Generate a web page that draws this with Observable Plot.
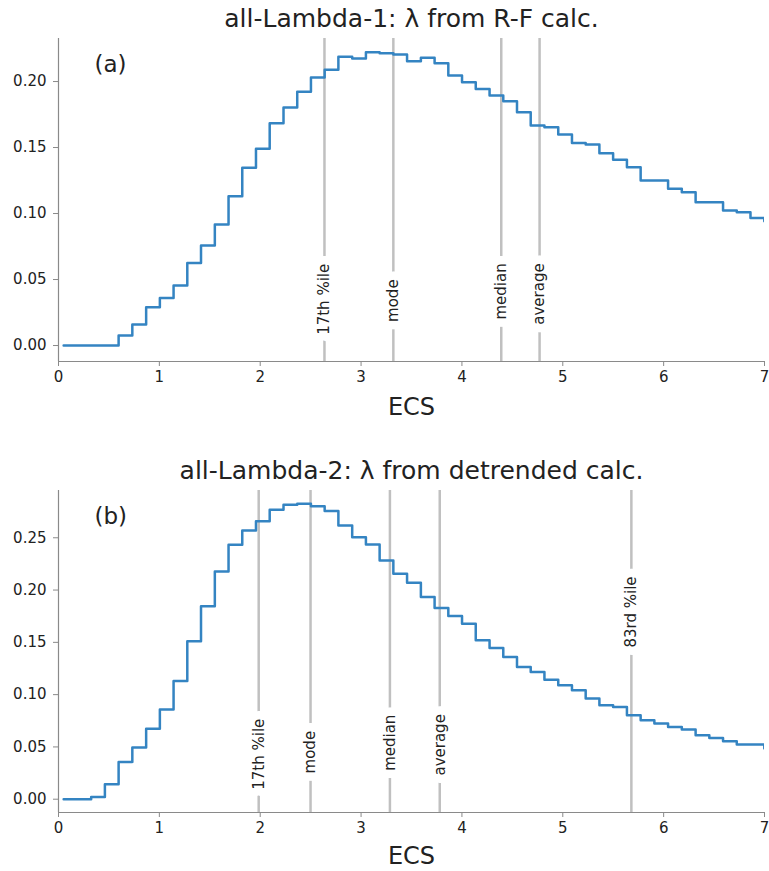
<!DOCTYPE html>
<html>
<head>
<meta charset="utf-8">
<script src="https://cdn.jsdelivr.net/npm/d3@7"></script>
<script src="https://cdn.jsdelivr.net/npm/@observablehq/plot@0.6"></script>
<style>
  html, body { margin: 0; padding: 0; background: #fff; }
  svg { display: block; }
</style>
</head>
<body>
<div id="chart"></div>
<script>
// ---- data ----
const ecsBinEdges = [
  0.051, 0.187, 0.324, 0.460, 0.596, 0.732, 0.869, 1.005, 1.141, 1.277,
  1.413, 1.550, 1.686, 1.822, 1.958, 2.094, 2.231, 2.367, 2.503, 2.639,
  2.775, 2.912, 3.048, 3.184, 3.320, 3.456, 3.593, 3.729, 3.865, 4.001,
  4.137, 4.274, 4.410, 4.546, 4.682, 4.818, 4.955, 5.091, 5.227, 5.363,
  5.499, 5.636, 5.772, 5.908, 6.044, 6.180, 6.317, 6.453, 6.589, 6.725,
  6.861, 6.998, 7.134
];
const lambda1Density = [
  0, 0, 0, 0, 0.0076, 0.0159, 0.029, 0.036, 0.0455, 0.0626,
  0.0758, 0.0917, 0.1131, 0.1346, 0.149, 0.1684, 0.1803, 0.1922, 0.203, 0.209,
  0.2187, 0.2174, 0.2222, 0.2215, 0.2205, 0.2154, 0.218, 0.2139, 0.2045, 0.1995,
  0.1944, 0.1894, 0.1851, 0.1768, 0.1667, 0.1654, 0.1598, 0.1535, 0.1523, 0.1457,
  0.1407, 0.1351, 0.125, 0.125, 0.1187, 0.1162, 0.1086, 0.1086, 0.1023, 0.101,
  0.0967, 0.0942
];
const lambda2Density = [
  0, 0, 0.0022, 0.0143, 0.0357, 0.0494, 0.0675, 0.0857, 0.113, 0.151,
  0.1844, 0.2178, 0.2433, 0.257, 0.2659, 0.2767, 0.2815, 0.2825, 0.2802, 0.2755,
  0.2618, 0.2506, 0.2436, 0.2283, 0.2156, 0.207, 0.1933, 0.1828, 0.1751, 0.1678,
  0.1519, 0.1446, 0.136, 0.1264, 0.1216, 0.1143, 0.1089, 0.1041, 0.0962, 0.0898,
  0.0882, 0.0803, 0.0755, 0.0723, 0.0691, 0.0666, 0.0611, 0.0586, 0.0554, 0.0523,
  0.0523, 0.0484
];
const markerNames1 = ["17th %ile", "mode", "median", "average"];
const markerX1 = [2.637, 3.32, 4.39, 4.77];
const markerLabelY1 = [0.035, 0.034, 0.041, 0.039];
const markerNames2 = ["17th %ile", "mode", "median", "average", "83rd %ile"];
const markerX2 = [1.985, 2.499, 3.286, 3.78, 5.68];
const markerLabelY2 = [0.043, 0.045, 0.054, 0.052, 0.179];
const xTicks = [0, 1, 2, 3, 4, 5, 6, 7];
const yTicks1 = [0, 0.05, 0.10, 0.15, 0.20];
const yTicks2 = [0, 0.05, 0.10, 0.15, 0.20, 0.25];
const titles = ["all-Lambda-1: \u03bb from R-F calc.", "all-Lambda-2: \u03bb from detrended calc."];
const panelTags = ["(a)", "(b)"];
const xLabel = "ECS";

// ---- drawing ----
const LINE = "#3484c2", RULE = "#c0c0c0", SPINE = "#8a8a8a", TEXT = "#222";
const FONT = "DejaVu Sans, sans-serif";

function panel({density, names, mx, my, yTicks, yDomain, title, tag, height, marginBottom, ecsDy}) {
  const steps = ecsBinEdges.map((x, i) => ({x, y: density[Math.min(i, density.length - 1)]}));
  const markers = names.map((name, i) => ({name, x: mx[i], y: my[i]}));
  return Plot.plot({
    width: 769,
    height,
    marginLeft: 58,
    marginRight: 5,
    marginTop: 38,
    marginBottom,
    style: {fontFamily: FONT, background: "#fff", color: TEXT},
    x: {domain: [0, 7]},
    y: {domain: yDomain},
    marks: [
      Plot.axisX({ticks: xTicks, tickSize: 5, tickPadding: 5, fontSize: 15, stroke: SPINE, color: TEXT, label: null, tickFormat: d3.format("d")}),
      Plot.axisY({ticks: yTicks, tickSize: 5, tickPadding: 7, fontSize: 15, stroke: SPINE, color: TEXT, label: null, tickFormat: d3.format(".2f")}),
      Plot.ruleX([0], {stroke: SPINE, strokeWidth: 1.2}),
      Plot.ruleY([yDomain[0]], {stroke: SPINE, strokeWidth: 1.2}),
      Plot.ruleX(markers, {x: "x", stroke: RULE, strokeWidth: 2.5}),
      Plot.text(markers, {x: "x", y: "y", text: "name", rotate: -90, fontSize: 15, fill: TEXT,
        stroke: "white", strokeWidth: 17, textAnchor: "middle", lineAnchor: "middle"}),
      Plot.line(steps, {x: "x", y: "y", curve: "step-after", stroke: LINE, strokeWidth: 2.5, clip: true}),
      Plot.text([title], {frameAnchor: "top", dy: -20, lineAnchor: "middle", fontSize: 25, fill: TEXT}),
      Plot.text([tag], {frameAnchor: "top-left", dx: 36, dy: 26, lineAnchor: "middle", textAnchor: "start", fontSize: 23, fill: TEXT}),
      Plot.text([xLabel], {frameAnchor: "bottom", dy: ecsDy, lineAnchor: "middle", fontSize: 24, fill: TEXT})
    ]
  });
}

const root = document.getElementById("chart");
root.appendChild(panel({
  density: lambda1Density, names: markerNames1, mx: markerX1, my: markerLabelY1,
  yTicks: yTicks1, yDomain: [-0.0121, 0.2326], title: titles[0], tag: panelTags[0],
  height: 452, marginBottom: 91, ecsDy: 46
}));
root.appendChild(panel({
  density: lambda2Density, names: markerNames2, mx: markerX2, my: markerLabelY2,
  yTicks: yTicks2, yDomain: [-0.0127, 0.2952], title: titles[1], tag: panelTags[1],
  height: 419, marginBottom: 59, ecsDy: 44
}));
</script>
</body>
</html>
